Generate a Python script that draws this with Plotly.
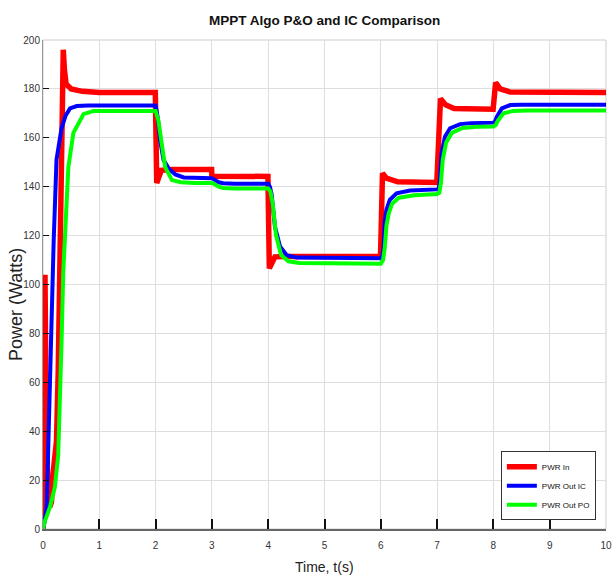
import plotly.graph_objects as go

# ---- data ----
t_in = [0, 0.02, 0.035, 0.06, 0.09, 0.12, 0.15, 0.18, 0.24, 0.27, 0.30, 0.33, 0.36, 0.38, 0.41, 0.5, 0.7, 1.0,
        1.995, 2.02, 2.05, 2.1, 2.3, 2.995, 3.0, 3.5, 3.995, 4.02, 4.06, 4.12, 4.3,
        5.995, 6.03, 6.1, 6.3, 6.995, 7.06, 7.15, 7.3, 7.995, 8.04, 8.12, 8.3, 10]
p_in = [0, 60, 104, 40, 12, 9, 11, 23, 36, 64, 105, 160, 196, 188, 182, 180, 179, 178.5,
        178.5, 141.5, 144, 146.7, 147, 147, 144.3, 144.2, 144.2, 106.6, 109, 111.3, 111.5,
        111.5, 145.5, 143.5, 142, 141.7, 176, 173.5, 172, 171.7, 182.6, 180, 178.7, 178.5]

t_ic = [0, 0.03, 0.065, 0.095, 0.125, 0.155, 0.19, 0.24, 0.30, 0.33, 0.40, 0.48, 0.6, 0.8,
        2.0, 2.04, 2.08, 2.14, 2.23, 2.35, 2.5, 3.0, 3.05, 3.12, 3.2, 3.4,
        4.0, 4.03, 4.06, 4.12, 4.21, 4.33, 4.5,
        6.0, 6.03, 6.05, 6.07, 6.1, 6.16, 6.28, 6.52,
        7.0, 7.03, 7.05, 7.08, 7.14, 7.23, 7.41, 7.6,
        8.0, 8.03, 8.06, 8.15, 8.3, 8.5, 10]
p_ic = [0, 3, 9, 36, 64, 91, 118, 151, 160, 164, 169, 172, 173, 173.2,
        173.2, 168, 159, 151, 147.5, 145, 143.8, 143.5, 142.8, 141.8, 141.4, 141.2,
        141.2, 140, 137, 123.6, 115.5, 112, 111,
        110.7, 112, 115.5, 126, 130.5, 134.6, 137.3, 138.4,
        138.9, 139.5, 142.7, 153.7, 160.4, 163.9, 165.6, 166,
        166.2, 166.8, 168.6, 172, 173.4, 173.5, 173.5]

t_po = [0, 0.03, 0.125, 0.21, 0.27, 0.30, 0.33, 0.36, 0.39, 0.45, 0.54, 0.72, 0.9,
        2.0, 2.05, 2.11, 2.17, 2.29, 2.45, 2.7, 3.0, 3.05, 3.12, 3.2, 3.4,
        4.0, 4.04, 4.08, 4.14, 4.23, 4.36, 4.55,
        6.0, 6.04, 6.07, 6.1, 6.14, 6.2, 6.32, 6.6,
        7.0, 7.04, 7.07, 7.1, 7.16, 7.26, 7.45, 7.7,
        8.0, 8.04, 8.08, 8.18, 8.35, 8.6, 10]
p_po = [0, 3, 9, 17, 30, 50, 77, 105, 118, 148, 162, 169.7, 171,
        171, 167, 157, 148, 142.7, 141.8, 141.5, 141.5, 141, 140, 139.5, 139.3,
        139.3, 138, 133, 120, 112, 109.5, 108.8,
        108.5, 110, 115, 124, 129, 133, 135.5, 136.5,
        137, 137.5, 142, 151, 158, 162, 164, 164.5,
        164.6, 165.2, 167, 170, 171, 171.2, 171.2]

x_ticks = list(range(0, 11))
y_ticks = list(range(0, 201, 20))

SANS = "Liberation Sans, Arial, sans-serif"

W, H = 613, 582

fig = go.Figure()
fig.add_trace(go.Scatter(x=t_in, y=p_in, mode="lines", name="PWR In",
                         line=dict(color="#ff0000", width=5.5)))
fig.add_trace(go.Scatter(x=t_ic, y=p_ic, mode="lines", name="PWR Out IC",
                         line=dict(color="#0000ff", width=4)))
fig.add_trace(go.Scatter(x=t_po, y=p_po, mode="lines", name="PWR Out PO",
                         line=dict(color="#00ff00", width=4)))

fig.update_layout(
    width=W, height=H,
    margin=dict(l=43, r=7, t=40, b=53, autoexpand=False),
    paper_bgcolor="white", plot_bgcolor="white",
    title=dict(text="<b>MPPT Algo P&O and IC Comparison</b>", x=0.5295, xanchor="center",
               y=1 - 20 / H, yanchor="middle", yref="container",
               font=dict(family=SANS, size=13.5, color="#111111")),
    showlegend=True,
    legend=dict(x=0.982, xanchor="right", y=0.018, yanchor="bottom",
                bgcolor="white", bordercolor="#333333", borderwidth=1,
                font=dict(family=SANS, size=8, color="#111111"),
                itemwidth=30, tracegroupgap=0),
    shapes=[dict(type="rect", xref="paper", yref="paper", x0=0, x1=1, y0=0, y1=1,
                 line=dict(color="#cccccc", width=1), layer="below")],
    annotations=[
        dict(text="Time, t(s)", xref="paper", yref="paper", x=0.5, y=-(38 / 489),
             xanchor="center", yanchor="middle", showarrow=False,
             font=dict(family=SANS, size=14, color="#222222")),
        dict(text="Power (Watts)", xref="paper", yref="paper", x=-(27 / 563), y=(529 - 305) / 489,
             xanchor="center", yanchor="middle", textangle=-90, showarrow=False,
             font=dict(family=SANS, size=18, color="#222222")),
    ],
)

fig.update_xaxes(range=[0, 10], tickvals=x_ticks, showgrid=True, gridcolor="#dedede", gridwidth=1,
                 zeroline=False, showline=True, linecolor="#666666", linewidth=1.5,
                 ticks="inside", ticklen=10, tickwidth=1.5, tickcolor="#111111", automargin=False,
                 ticklabelstandoff=6, ticklabeloverflow="allow",
                 tickfont=dict(family=SANS, size=10, color="#333333"))
fig.update_yaxes(range=[0, 200], tickvals=y_ticks, showgrid=True, gridcolor="#dedede", gridwidth=1,
                 zeroline=False, showline=True, linecolor="#999999", linewidth=1,
                 ticks="inside", ticklen=6, tickwidth=1.2, tickcolor="#111111", automargin=False,
                 tickfont=dict(family=SANS, size=10, color="#333333"))

fig.write_html("out.html", config={"displayModeBar": False},
               post_script="document.body.style.margin='0';document.body.style.overflow='hidden';")
